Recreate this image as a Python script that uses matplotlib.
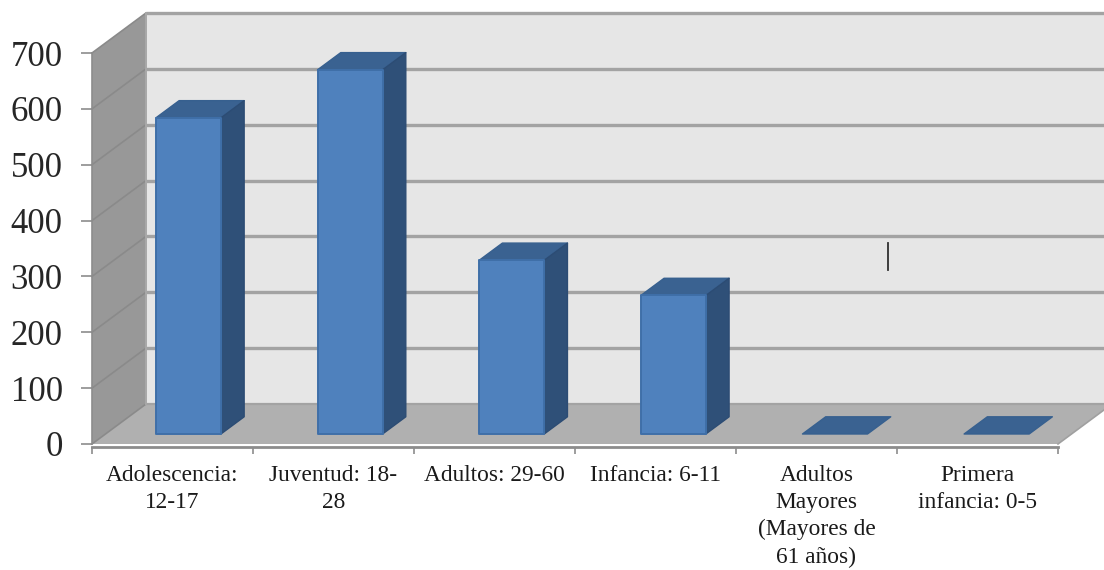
import matplotlib
matplotlib.use("Agg")
import matplotlib.pyplot as plt
from matplotlib.patches import Polygon

categories = ["Adolescencia:\n12-17", "Juventud: 18-\n28", "Adultos: 29-60", "Infancia: 6-11",
              "Adultos\nMayores\n(Mayores de\n61 años)", "Primera\ninfancia: 0-5"]
values = [566, 652, 311, 248, 0, 0]
y_ticks = [0, 100, 200, 300, 400, 500, 600, 700]

W, H = 1104, 570
L, R, B, T = 92, 1058, 444, 53
fig = plt.figure(figsize=(W / 100, H / 100), dpi=100, facecolor="white")
ax = fig.add_axes([L / W, 1 - B / H, (R - L) / W, (B - T) / H])
ax.set_xlim(0, len(categories))
ax.set_ylim(0, 700)
ax.patch.set_visible(False)

# oblique projection: depth 0 = front plane, depth 1 = back wall
DX = 54 / ((R - L) / len(categories))
DY = 40 / ((B - T) / 700)
def P(c, v, d):
    return (c + d * DX, v + d * DY)

def poly(pts, fc, ec="none", lw=0, z=1):
    ax.add_patch(Polygon([P(*p) for p in pts], closed=True, facecolor=fc, edgecolor=ec,
                         linewidth=lw, zorder=z, clip_on=False, joinstyle="round"))

n = len(categories)
poly([(0, 0, 1), (n, 0, 1), (n, 700, 1), (0, 700, 1)], "#E6E6E6", z=1)
poly([(0, 0, 0), (0, 700, 0), (0, 700, 1), (0, 0, 1)], "#989898", z=1)
poly([(0, 0, 0), (n, 0, 0), (n, 0, 1), (0, 0, 1)], "#B0B0B0", z=1)

grid = "#A3A3A3"
for t in y_ticks:
    x0, y0 = P(0, t, 0); x1, y1 = P(0, t, 1); x2, y2 = P(n, t, 1)
    lw = 2.4 if t > 0 else 1.6
    ax.plot([x1, x2], [y1, y2], color=grid, lw=lw, zorder=2, clip_on=False, solid_capstyle="butt")
    ax.plot([x0, x1], [y0, y1], color="#8A8A8A", lw=1.2, zorder=2, clip_on=False)
x1, y1 = P(0, 0, 1); x2, y2 = P(0, 700, 1)
ax.plot([x1, x2], [y1, y2], color="#A8A8A8", lw=1.4, zorder=2, clip_on=False)
x1, y1 = P(n, 0, 0); x2, y2 = P(n, 0, 1)
ax.plot([x1, x2], [y1, y2], color="#A0A0A0", lw=1.2, zorder=2, clip_on=False)

# bars
gap, width, pitch, d0, d1 = 0.313, 0.404, 1.004, 0.25, 0.68
for i, v in enumerate(values):
    a = i * pitch + gap
    b = a + width
    poly([(a, v, d0), (b, v, d0), (b, v, d1), (a, v, d1)], "#3A6291", "#37608F", 1, z=3)
    if v > 0:
        poly([(b, 0, d0), (b, 0, d1), (b, v, d1), (b, v, d0)], "#2F5078", "#2C4C74", 1, z=3)
        poly([(a, 0, d0), (b, 0, d0), (b, v, d0), (a, v, d0)], "#4F81BD", "#3F6FA8", 1.4, z=4)

# axes
for s in ("top", "right"):
    ax.spines[s].set_visible(False)
ax.spines["left"].set_color("#8C8C8C")
ax.spines["left"].set_linewidth(1.2)
ax.spines["bottom"].set_color("#8C8C8C")
ax.spines["bottom"].set_linewidth(2.0)
ax.spines["bottom"].set_position(("outward", 2))
ax.set_yticks(y_ticks)
ax.tick_params(axis="y", length=8, width=1.2, color="#8C8C8C", pad=13, labelcolor="#262626",
               labelsize=25)
for lb in ax.get_yticklabels():
    lb.set_family("Liberation Serif")
ax.set_xticks(range(n + 1))
ax.set_xticklabels([])
ax.tick_params(axis="x", which="major", length=5, width=1.2, color="#8C8C8C")
ax.set_xticks([i + 0.5 for i in range(n)], minor=True)
ax.set_xticklabels(categories, minor=True, family="Liberation Serif", fontsize=16.8,
                   color="#1A1A1A", linespacing=1.38)
ax.tick_params(axis="x", which="minor", length=0, pad=13)

# stray vertical stroke present in the source image
ax.plot([0.8235, 0.8235], [0.446, 0.515], transform=ax.transAxes, color="#303030", lw=1.3,
        zorder=5, clip_on=False)

fig.savefig("out.png", dpi=100)
